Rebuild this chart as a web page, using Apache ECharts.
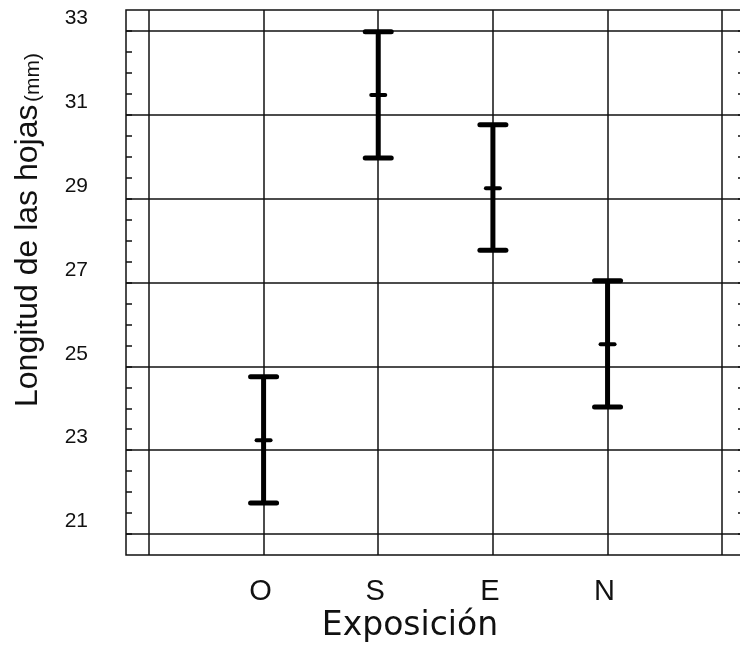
<!DOCTYPE html>
<html>
<head>
<meta charset="utf-8">
<script src="https://cdn.jsdelivr.net/npm/echarts@6/dist/echarts.min.js"></script>
<style>
  html, body { margin: 0; padding: 0; background: #fff; }
  #chart { width: 740px; height: 661px; }
</style>
</head>
<body>
<div id="chart"></div>
<script>
// Leaf length by exposure: mean with lower / upper limits (mm)
const categories = ['O', 'S', 'E', 'N'];
const means = [22.94, 31.17, 28.95, 25.23];
const lows  = [21.44, 29.67, 27.47, 23.73];
const highs = [24.45, 32.68, 30.46, 26.74];

// Axis marks
const yTickLabels = [21, 23, 25, 27, 29, 31, 33];
const yGridValues = [20.7, 22.7, 24.7, 26.7, 28.7, 30.7, 32.7];
const yMinorTicks = [];
for (let v = 20.7; v <= 32.71; v += 0.5) yMinorTicks.push(+v.toFixed(2));
const xGridValues = [0, 1, 2, 3, 4, 5];
const xLabelValues = categories.map((c, i) => i + 1);

const yTitle = 'Longitud de las hojas';
const yUnit = '(mm)';
const xTitle = 'Exposición';

const Y_MIN = 20.2, Y_MAX = 33.2;
const X_MIN = -0.2, X_MAX = 5.19;
const INK = '#111';

const chart = echarts.init(document.getElementById('chart'), null, { renderer: 'canvas' });

const errorData = categories.map((c, i) => [i + 1, lows[i], means[i], highs[i]]);

const lineStyle = { color: INK, width: 1.5 };
const hiddenLine = { show: false, onZero: false };

chart.setOption({
  backgroundColor: '#fff',
  animation: false,
  grid: {
    left: 126, top: 10, width: 618, height: 545,
    outerBoundsMode: 'none', containLabel: false,
    show: true, borderColor: INK, borderWidth: 1.5, backgroundColor: 'transparent'
  },
  xAxis: [{
    type: 'value', min: X_MIN, max: X_MAX,
    axisLine: hiddenLine,
    axisTick: { show: false, customValues: xGridValues },
    splitLine: { show: true, lineStyle: lineStyle },
    axisLabel: {
      customValues: xLabelValues,
      formatter: v => categories[Math.round(v) - 1] || '',
      fontFamily: 'Liberation Sans', fontSize: 29, color: INK,
      margin: 37, verticalAlign: 'middle', padding: [0, 6, 0, 0]
    }
  }],
  yAxis: [{
    type: 'value', min: Y_MIN, max: Y_MAX, position: 'left',
    axisLine: hiddenLine,
    axisTick: { show: true, inside: true, length: 6, customValues: yMinorTicks,
                lineStyle: { color: INK, width: 1.5 } },
    splitLine: { show: false },
    axisLabel: {
      customValues: yTickLabels,
      fontFamily: 'Liberation Sans', fontSize: 21, color: INK, margin: 38
    }
  }, {
    type: 'value', min: Y_MIN, max: Y_MAX, position: 'left',
    axisLine: hiddenLine,
    axisTick: { show: false, customValues: yGridValues },
    axisLabel: { show: false },
    splitLine: { show: true, lineStyle: lineStyle }
  }, {
    type: 'value', min: Y_MIN, max: Y_MAX, position: 'right',
    axisLine: hiddenLine,
    axisTick: { show: true, inside: true, length: 6, customValues: yMinorTicks,
                lineStyle: { color: INK, width: 1.5 } },
    axisLabel: { show: false },
    splitLine: { show: false }
  }],
  graphic: [{
    type: 'text', x: 28, y: 407, rotation: Math.PI / 2,
    style: { text: yTitle, font: '32px "Liberation Sans"', fill: INK,
             textAlign: 'left', textVerticalAlign: 'middle' }
  }, {
    type: 'text', x: 33, y: 102, rotation: Math.PI / 2,
    style: { text: yUnit, font: '21px "Liberation Sans"', fill: INK,
             textAlign: 'left', textVerticalAlign: 'middle' }
  }, {
    type: 'text', x: 410, y: 626,
    style: { text: xTitle, font: '33px "DejaVu Sans"', fill: INK,
             textAlign: 'center', textVerticalAlign: 'middle' }
  }],
  series: [{
    type: 'custom',
    xAxisIndex: 0, yAxisIndex: 0,
    data: errorData,
    encode: { x: 0, y: [1, 2, 3] },
    renderItem(params, api) {
      const x = api.value(0);
      const pLo = api.coord([x, api.value(1)]);
      const pMid = api.coord([x, api.value(2)]);
      const pHi = api.coord([x, api.value(3)]);
      const cap = 13, tick = 7;
      const s = w => ({ stroke: '#000', lineWidth: w, lineCap: 'round' });
      return {
        type: 'group',
        children: [
          { type: 'line', shape: { x1: pLo[0], y1: pLo[1], x2: pHi[0], y2: pHi[1] }, style: { stroke: '#000', lineWidth: 5 } },
          { type: 'line', shape: { x1: pHi[0] - cap, y1: pHi[1], x2: pHi[0] + cap, y2: pHi[1] }, style: s(5) },
          { type: 'line', shape: { x1: pLo[0] - cap, y1: pLo[1], x2: pLo[0] + cap, y2: pLo[1] }, style: s(5) },
          { type: 'line', shape: { x1: pMid[0] - tick, y1: pMid[1], x2: pMid[0] + tick, y2: pMid[1] }, style: s(4) }
        ]
      };
    }
  }]
});
</script>
</body>
</html>
